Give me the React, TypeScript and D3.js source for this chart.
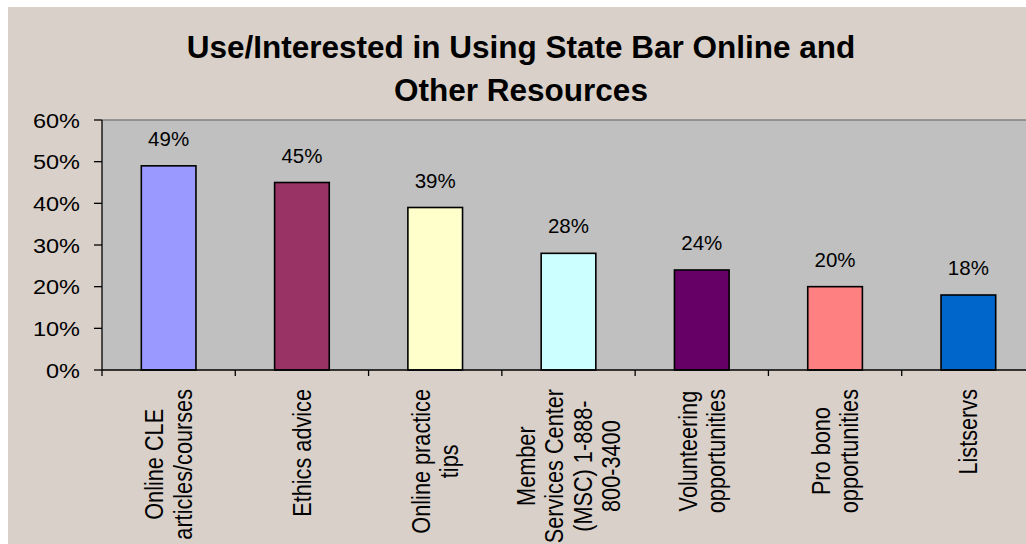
import React from "react";
import * as d3 from "d3";

const categories: string[][] = [
  ["Online CLE", "articles/courses"],
  ["Ethics advice"],
  ["Online practice", "tips"],
  ["Member", "Services Center", "(MSC) 1-888-", "800-3400"],
  ["Volunteering", "opportunities"],
  ["Pro bono", "opportunities"],
  ["Listservs"],
];
const values: number[] = [49, 45, 39, 28, 24, 20, 18];
const barColors: string[] = ["#9999FF", "#993366", "#FFFFCC", "#CCFFFF", "#660066", "#FF8080", "#0066CC"];
const yTicks: number[] = [0, 10, 20, 30, 40, 50, 60];
const titleLines: string[] = ["Use/Interested in Using State Bar Online and", "Other Resources"];

const FONT = "'Liberation Sans', Arial, Helvetica, sans-serif";

let ctx: CanvasRenderingContext2D | null = null;
function measure(text: string, size: number): number {
  if (!ctx) {
    const c = document.createElement("canvas");
    ctx = c.getContext("2d");
  }
  if (!ctx) return text.length * size * 0.5;
  ctx.font = `${size}px 'Liberation Sans', Arial, sans-serif`;
  return ctx.measureText(text).width;
}

export default function App() {
  const W = 1026;
  const H = 544;
  const plotL = 102;
  const plotR = 1035;
  const plotT = 120;
  const plotB = 370;

  const keys = categories.map((c) => c.join(" "));
  const x = d3
    .scaleBand<string>()
    .domain(keys)
    .range([plotL, plotR])
    .paddingInner(0.59)
    .paddingOuter(0.295);
  const step = x.step();
  const y = d3.scaleLinear().domain([0, 60]).range([plotB, plotT]);

  const catFs = 21.7;
  const catStretch = 1.15;
  const catLh = 28.5 / catStretch;

  return (
    <svg
      width={W}
      height={H}
      style={{ position: "absolute", left: 0, top: 0, display: "block" }}
      fontFamily={FONT}
    >
      <rect x={0} y={0} width={W} height={H} fill="#ffffff" />
      <rect x={8} y={7} width={W - 8} height={H - 7} fill="#D9D1C9" />

      {titleLines.map((t, i) => (
        <text
          key={i}
          x={521}
          y={58 + i * 43}
          textAnchor="middle"
          fontWeight="bold"
          fontSize={31.5}
          fill="#000"
        >
          {t}
        </text>
      ))}

      <rect x={plotL} y={plotT} width={plotR - plotL} height={plotB - plotT} fill="#C0C0C0" />
      <line x1={plotL} x2={plotR} y1={plotT} y2={plotT} stroke="#808080" strokeWidth={1.5} />

      {keys.map((k, i) => (
        <rect
          key={k}
          x={x(k)}
          y={y(values[i])}
          width={x.bandwidth()}
          height={plotB - y(values[i])}
          fill={barColors[i]}
          stroke="#000"
          strokeWidth={1.6}
        />
      ))}

      {keys.map((k, i) => (
        <text
          key={"v" + k}
          x={(x(k) as number) + x.bandwidth() / 2}
          y={y(values[i]) - 20}
          textAnchor="middle"
          fontSize={20.5}
          fill="#000"
        >
          {values[i]}%
        </text>
      ))}

      {/* y axis */}
      <line x1={plotL} x2={plotL} y1={plotT} y2={plotB + 6} stroke="#000" strokeWidth={1.3} />
      {yTicks.map((t) => (
        <g key={"yt" + t}>
          <line x1={plotL - 8} x2={plotL} y1={y(t)} y2={y(t)} stroke="#000" strokeWidth={1.3} />
          <g transform={`translate(80,${y(t) + 7.5}) scale(1.12,1)`}>
            <text x={0} y={0} textAnchor="end" fontSize={21} fill="#000">
              {t}%
            </text>
          </g>
        </g>
      ))}

      {/* x axis */}
      <line x1={plotL} x2={plotR} y1={plotB} y2={plotB} stroke="#000" strokeWidth={1.3} />
      {keys.map((k, i) => (
        <line
          key={"xt" + k}
          x1={plotL + step * (i + 1)}
          x2={plotL + step * (i + 1)}
          y1={plotB}
          y2={plotB + 6}
          stroke="#000"
          strokeWidth={1.3}
        />
      ))}

      {categories.map((lines, i) => {
        const cx = (x(keys[i]) as number) + x.bandwidth() / 2;
        const maxLen = Math.max(...lines.map((l) => measure(l, catFs)));
        const n = lines.length;
        return (
          <g key={"cl" + i} transform={`translate(${cx},${plotB}) scale(${catStretch},1) rotate(-90)`}>
            {lines.map((l, j) => (
              <text
                key={j}
                x={-(19 + maxLen / 2)}
                y={(j - (n - 1) / 2) * catLh + catFs * 0.36}
                textAnchor="middle"
                fontSize={catFs}
                fill="#000"
              >
                {l}
              </text>
            ))}
          </g>
        );
      })}
    </svg>
  );
}
